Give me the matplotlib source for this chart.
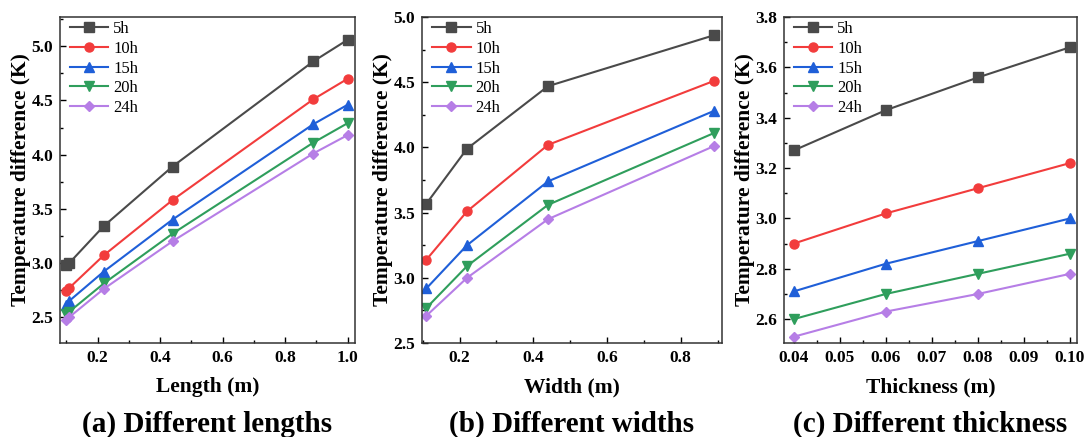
import numpy as np
import matplotlib
matplotlib.use("Agg")
import matplotlib.pyplot as plt
from matplotlib.ticker import MultipleLocator, AutoMinorLocator

plt.rcParams['font.family'] = ['Liberation Serif', 'DejaVu Serif']

# series
labels = ['5h', '10h', '15h', '20h', '24h']
colors = ['#4a4a4a', '#f23c3c', '#1f5fd8', '#2f9e5c', '#b67ee6']
markers = ['s', 'o', '^', 'v', 'D']

# (a) length
length = [0.10, 0.11, 0.22, 0.44, 0.89, 1.00]
len_vals = [
    [2.98, 3.00, 3.34, 3.89, 4.86, 5.06],
    [2.74, 2.77, 3.07, 3.58, 4.51, 4.70],
    [2.61, 2.65, 2.92, 3.40, 4.28, 4.46],
    [2.53, 2.55, 2.81, 3.27, 4.11, 4.29],
    [2.47, 2.50, 2.76, 3.20, 4.01, 4.18],
]

# (b) width
width = [0.11, 0.22, 0.44, 0.89]
wid_vals = [
    [3.57, 3.99, 4.47, 4.86],
    [3.14, 3.51, 4.02, 4.51],
    [2.92, 3.25, 3.74, 4.28],
    [2.77, 3.09, 3.56, 4.11],
    [2.71, 3.00, 3.45, 4.01],
]

# (c) thickness
thick = [0.04, 0.06, 0.08, 0.10]
thk_vals = [
    [3.27, 3.43, 3.56, 3.68],
    [2.90, 3.02, 3.12, 3.22],
    [2.71, 2.82, 2.91, 3.00],
    [2.60, 2.70, 2.78, 2.86],
    [2.53, 2.63, 2.70, 2.78],
]

fig = plt.figure(figsize=(10.85, 4.37), dpi=100)

panels = [
    dict(x=length, ys=len_vals, xlabel='Length (m)', title='(a) Different lengths',
         xlim=(0.08, 1.023), ylim=(2.26, 5.27), xmaj=0.2, ymaj=0.5, fmt='%.1f', left=0.0553, right=0.327),
    dict(x=width, ys=wid_vals, xlabel='Width (m)', title='(b) Different widths',
         xlim=(0.098, 0.912), ylim=(2.5, 5.0), xmaj=0.2, ymaj=0.5, fmt='%.1f', left=0.389, right=0.6654),
    dict(x=thick, ys=thk_vals, xlabel='Thickness (m)', title='(c) Different thickness',
         xlim=(0.0379, 0.1015), ylim=(2.505, 3.8), xmaj=0.01, ymaj=0.2, fmt='%.2f', left=0.7226, right=0.9926),
]

bottom, top = 0.215, 0.961
for p in panels:
    ax = fig.add_axes([p['left'], bottom, p['right'] - p['left'], top - bottom])
    for y, lab, c, m in zip(p['ys'], labels, colors, markers):
        ax.plot(p['x'], y, color=c, marker=m, markersize=6.5 if m != 'D' else 5.5,
                linewidth=1.5, label=lab)
    ax.set_xlim(*p['xlim'])
    ax.set_ylim(*p['ylim'])
    ax.xaxis.set_major_locator(MultipleLocator(p['xmaj']))
    ax.yaxis.set_major_locator(MultipleLocator(p['ymaj']))
    ax.xaxis.set_minor_locator(AutoMinorLocator(2))
    ax.yaxis.set_minor_locator(AutoMinorLocator(2))
    ax.xaxis.set_major_formatter(plt.FormatStrFormatter(p['fmt']))
    ax.yaxis.set_major_formatter(plt.FormatStrFormatter('%.1f'))
    ax.tick_params(direction='in', which='major', length=4, labelsize=12.5, width=1, pad=5)
    ax.tick_params(direction='in', which='minor', length=2.5, width=1)
    for t in ax.get_xticklabels() + ax.get_yticklabels():
        t.set_fontweight('bold')
    for s in ax.spines.values():
        s.set_linewidth(1.1)
        s.set_color('#333333')
    ax.set_xlabel(p['xlabel'], fontsize=15.5, fontweight='bold', labelpad=8)
    ax.set_ylabel('Temperature difference (K)', fontsize=15.5, fontweight='bold', labelpad=0)
    ax.legend(loc='upper left', bbox_to_anchor=(0.02, 1.0), frameon=False, fontsize=12,
              handlelength=2.3, borderaxespad=0.05, labelspacing=0.22, handletextpad=0.3,
              borderpad=0.2)
    cx = (p['left'] + p['right']) / 2
    fig.text(cx, 0.03, p['title'], ha='center', va='center', fontsize=21, fontweight='bold')

fig.savefig('out.png', dpi=100)
